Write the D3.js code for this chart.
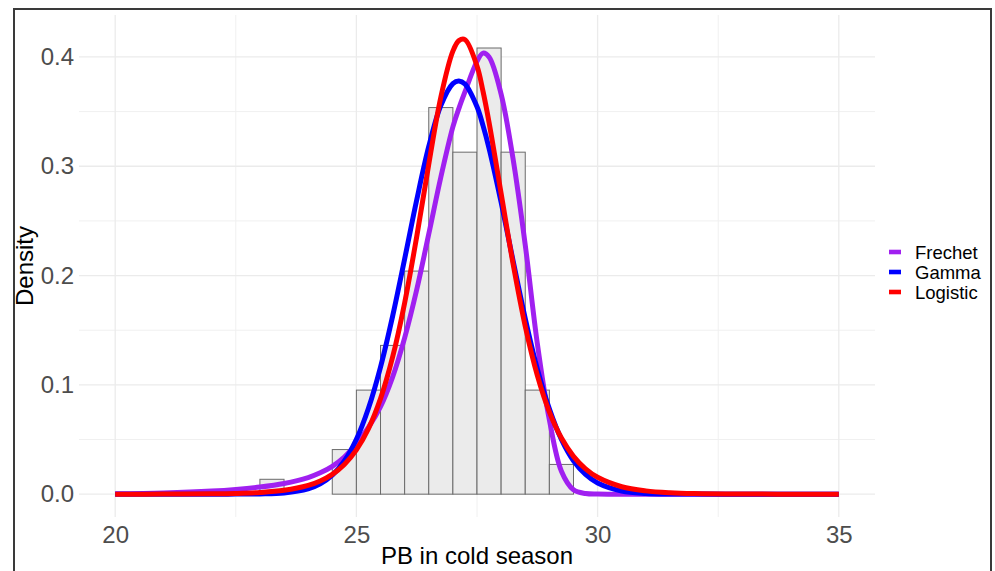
<!DOCTYPE html>
<html>
<head>
<meta charset="utf-8">
<script src="https://cdn.jsdelivr.net/npm/d3@7"></script>
<style>
  html, body { margin: 0; padding: 0; background: #fff; }
  svg { display: block; }
  text { font-family: "Liberation Sans", Arial, Helvetica, sans-serif; }
</style>
</head>
<body>
<script>
// Histogram of PB (cold season), bins of width 0.5, density scale
const binEdges = [23, 23.5, 24, 24.5, 25, 25.5, 26, 26.5, 27, 27.5, 28, 28.5, 29, 29.5];
const binDensity = [0.0136, 0, 0, 0.0408, 0.0952, 0.1361, 0.2041, 0.3537, 0.3129, 0.4082, 0.3129, 0.0952, 0.0272];

// Fitted density curves, evaluated on a shared grid
const gridX = [20, 21, 22, 22.5, 23, 23.5, 24, 24.25, 24.5, 24.75, 25, 25.25, 25.5, 25.75,
  26, 26.25, 26.5, 26.75, 27, 27.125, 27.25, 27.5, 27.625, 27.75, 28, 28.25, 28.5, 28.75,
  29, 29.25, 29.5, 29.75, 30, 30.5, 31, 31.5, 32, 33, 34, 35];

const frechetY = [0.0003, 0.0011, 0.0028, 0.0043, 0.0065, 0.0098, 0.0152, 0.0195, 0.0255, 0.034,
  0.046, 0.061, 0.080, 0.107, 0.143, 0.187, 0.238, 0.290, 0.336, 0.353, 0.368, 0.396, 0.4035,
  0.400, 0.366, 0.306, 0.228, 0.138, 0.068, 0.021, 0.004, 0.0006, 0.00005, 0, 0, 0, 0, 0, 0, 0];

const gammaY = [0, 0, 0.000003, 0.00003, 0.00019, 0.00105, 0.00477, 0.00935, 0.0173, 0.0303,
  0.0502, 0.0786, 0.1163, 0.1627, 0.2152, 0.2691, 0.3181, 0.3556, 0.3757, 0.3781, 0.3752, 0.3544,
  0.3372, 0.3164, 0.2670, 0.2131, 0.1607, 0.1146, 0.0780, 0.0500, 0.0305, 0.0180, 0.0102, 0.0029,
  0.0007, 0.00015, 0.00003, 0, 0, 0];

const logisticY = [0.00001, 0.00005, 0.00029, 0.00066, 0.00152, 0.00349, 0.00797, 0.01204, 0.01811,
  0.02718, 0.0405, 0.0599, 0.0874, 0.1253, 0.1750, 0.2355, 0.3018, 0.3632, 0.4053, 0.4150, 0.4159,
  0.3917, 0.3685, 0.3401, 0.2751, 0.2102, 0.1537, 0.1088, 0.0753, 0.0513, 0.0346, 0.0231, 0.0154,
  0.0068, 0.0030, 0.0013, 0.00056, 0.0001, 0.00002, 0];

const seriesNames = ["Frechet", "Gamma", "Logistic"];
const seriesColors = ["#A020F0", "#0000FF", "#FF0000"];
const seriesValues = [frechetY, gammaY, logisticY];

const xTicks = [20, 25, 30, 35];
const xMinor = [22.5, 27.5, 32.5];
const yTicks = [0, 0.1, 0.2, 0.3, 0.4];
const yMinor = [0.05, 0.15, 0.25, 0.35];

const W = 995, H = 571;
const panel = { left: 79, right: 875, top: 15, bottom: 517 };

const svg = d3.select("body").append("svg").attr("width", W).attr("height", H);

const x = d3.scaleLinear().domain([19.25, 35.75]).range([panel.left, panel.right]);
const y = d3.scaleLinear().domain([-0.0209, 0.4384]).range([panel.bottom, panel.top]);

// grid
const grid = svg.append("g");
grid.selectAll("line.ymin").data(yMinor).join("line")
  .attr("x1", panel.left).attr("x2", panel.right)
  .attr("y1", d => y(d)).attr("y2", d => y(d))
  .attr("stroke", "#f0f0f0").attr("stroke-width", 1);
grid.selectAll("line.xmin").data(xMinor).join("line")
  .attr("y1", panel.top).attr("y2", panel.bottom)
  .attr("x1", d => x(d)).attr("x2", d => x(d))
  .attr("stroke", "#f0f0f0").attr("stroke-width", 1);
grid.selectAll("line.ymaj").data(yTicks).join("line")
  .attr("x1", panel.left).attr("x2", panel.right)
  .attr("y1", d => y(d)).attr("y2", d => y(d))
  .attr("stroke", "#ebebeb").attr("stroke-width", 1.3);
grid.selectAll("line.xmaj").data(xTicks).join("line")
  .attr("y1", panel.top).attr("y2", panel.bottom)
  .attr("x1", d => x(d)).attr("x2", d => x(d))
  .attr("stroke", "#ebebeb").attr("stroke-width", 1.3);

// histogram
svg.append("g").selectAll("rect").data(binDensity).join("rect")
  .attr("x", (d, i) => x(binEdges[i]))
  .attr("width", (d, i) => x(binEdges[i + 1]) - x(binEdges[i]))
  .attr("y", d => y(d))
  .attr("height", d => y(0) - y(d))
  .attr("fill", "#ebebeb")
  .attr("stroke", "#6b6b6b")
  .attr("stroke-width", 1);

// density curves
const line = d3.line()
  .x((d, i) => x(gridX[i]))
  .y(d => y(d))
  .curve(d3.curveCatmullRom.alpha(0.5));

svg.append("g").selectAll("path").data(seriesValues).join("path")
  .attr("d", d => line(d))
  .attr("fill", "none")
  .attr("stroke", (d, i) => seriesColors[i])
  .attr("stroke-width", 5)
  .attr("stroke-linejoin", "round");

// axes
const xAxis = svg.append("g").attr("transform", `translate(0,${panel.bottom})`)
  .call(d3.axisBottom(x).tickValues(xTicks).tickSize(0).tickPadding(9).tickFormat(d3.format("d")));
xAxis.select(".domain").remove();
xAxis.selectAll("text").attr("fill", "#4d4d4d").attr("font-size", 24)
  .attr("font-family", "'Liberation Sans', Arial, sans-serif");

const yAxis = svg.append("g").attr("transform", `translate(${panel.left},0)`)
  .call(d3.axisLeft(y).tickValues(yTicks).tickSize(0).tickPadding(5).tickFormat(d3.format(".1f")));
yAxis.select(".domain").remove();
yAxis.selectAll("text").attr("fill", "#4d4d4d").attr("font-size", 24)
  .attr("font-family", "'Liberation Sans', Arial, sans-serif");

// axis titles
svg.append("text")
  .attr("x", (panel.left + panel.right) / 2).attr("y", 564)
  .attr("text-anchor", "middle").attr("font-size", 24).attr("fill", "#000")
  .text("PB in cold season");

svg.append("text")
  .attr("transform", `translate(33,${(panel.top + panel.bottom) / 2}) rotate(-90)`)
  .attr("text-anchor", "middle").attr("font-size", 24).attr("fill", "#000")
  .text("Density");

// legend
const legend = svg.append("g").attr("transform", "translate(889,252)");
const rows = legend.selectAll("g").data(seriesNames).join("g")
  .attr("transform", (d, i) => `translate(0,${i * 20})`);
rows.append("line")
  .attr("x1", 0).attr("x2", 12).attr("y1", 0).attr("y2", 0)
  .attr("stroke", (d, i) => seriesColors[i]).attr("stroke-width", 4.6);
rows.append("text")
  .attr("x", 26).attr("y", 6.5)
  .attr("font-size", 18.5).attr("fill", "#000")
  .text(d => d);

// outer frame
svg.append("path")
  .attr("d", `M14,${H} L14,9 L991,9 L991,${H}`)
  .attr("fill", "none").attr("stroke", "#3a3a3a").attr("stroke-width", 2);
</script>
</body>
</html>
